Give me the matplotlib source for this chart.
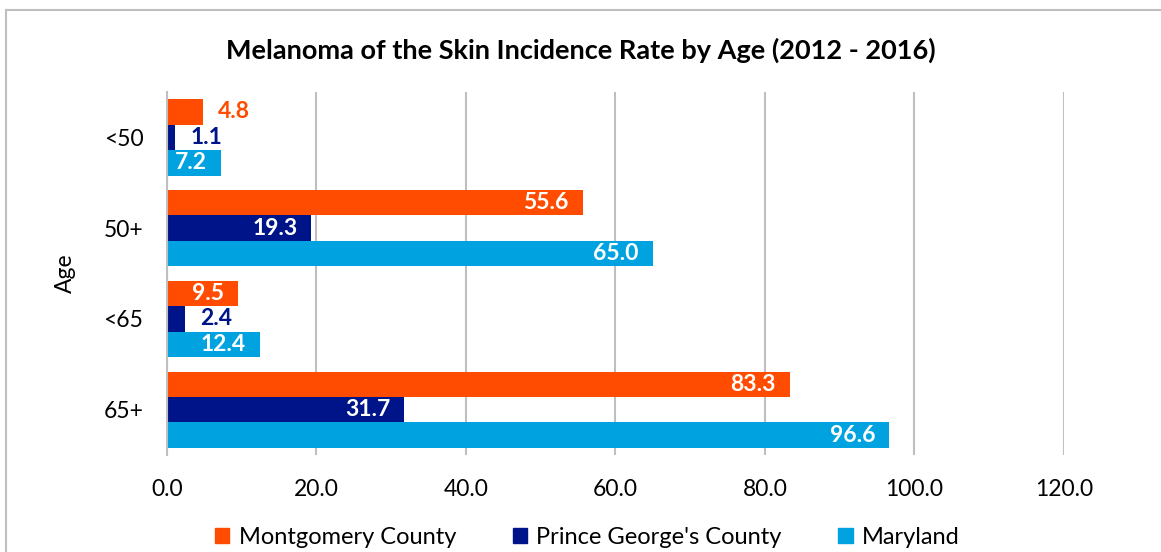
import matplotlib.pyplot as plt
import numpy as np
from matplotlib.lines import Line2D

plt.rcParams['font.family'] = ['Lato', 'DejaVu Sans']

ages = ["<50", "50+", "<65", "65+"]
series = ["Montgomery County", "Prince George's County", "Maryland"]
montgomery = [4.8, 55.6, 9.5, 83.3]
prince_georges = [1.1, 19.3, 2.4, 31.7]
maryland = [7.2, 65.0, 12.4, 96.6]
colors = ["#FF4C00", "#001489", "#00A3E0"]

fig = plt.figure(figsize=(11.61, 5.52), dpi=100)
ax = fig.add_axes([0.1438, 0.1757, 0.7726, 0.6576])

# outer chart frame (left and top edges visible)
fig.add_artist(Line2D([6 / 1161, 6 / 1161], [0, 1 - 10 / 552], color="#BFBFBF", lw=1.5,
                      transform=fig.transFigure))
fig.add_artist(Line2D([6 / 1161, 1], [1 - 10 / 552, 1 - 10 / 552], color="#BFBFBF", lw=1.5,
                      transform=fig.transFigure))

y = np.arange(len(ages))
h = 0.28
data = [montgomery, prince_georges, maryland]
for k, (vals, col) in enumerate(zip(data, colors)):
    pos = y + (k - 1) * h
    ax.barh(pos, vals, height=h, color=col, zorder=3)
    for p, v in zip(pos, vals):
        if v >= 6:
            ax.annotate(f"{v:.1f}", (v, p), xytext=(-10, 0), textcoords="offset points",
                        ha="right", va="center", color="white", fontsize=16.5,
                        fontweight="bold", zorder=4)
        else:
            ax.annotate(f"{v:.1f}", (v, p), xytext=(11, 0), textcoords="offset points",
                        ha="left", va="center", color=col, fontsize=16.5,
                        fontweight="bold", zorder=4)

ax.set_xlim(0, 120)
ax.set_ylim(len(ages) - 0.5, -0.5)
ax.set_xticks(np.arange(0, 121, 20))
ax.set_xticklabels([f"{t:.1f}" for t in np.arange(0, 121, 20)])
ax.set_yticks(y)
ax.set_yticklabels(ages)
ax.tick_params(axis="x", length=0, pad=17, labelsize=16.5)
ax.tick_params(axis="y", length=0, pad=17, labelsize=16.5)
ax.grid(axis="x", color="#BFBFBF", lw=1.5, zorder=0)
for s in ["top", "right", "bottom"]:
    ax.spines[s].set_visible(False)
ax.spines["left"].set_color("#BFBFBF")
ax.spines["left"].set_linewidth(1.5)
ax.spines["left"].set_zorder(5)

ax.set_ylabel("Age", fontsize=16.5, labelpad=20)
fig.text(0.5, 1 - 50 / 552, "Melanoma of the Skin Incidence Rate by Age (2012 - 2016)",
         ha="center", va="center", fontsize=19.5, fontweight="bold")

handles = [plt.Rectangle((0, 0), 1, 1, color=c) for c in colors]
fig.legend(handles, series, loc="center", bbox_to_anchor=(0.506, 1 - 537 / 552), ncol=3,
           frameon=False, fontsize=17, handlelength=0.6, handleheight=0.6,
           handletextpad=0.4, columnspacing=2.4, borderpad=0)

fig.savefig("out.png", dpi=100)
